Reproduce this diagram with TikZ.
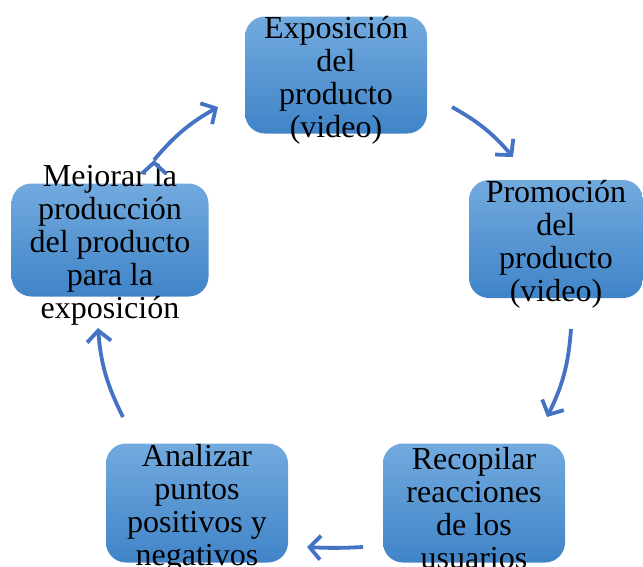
\documentclass[tikz,border=0pt]{standalone}
\usepackage{fontspec}
\setmainfont{Liberation Serif}
\usetikzlibrary{arrows.meta}
\definecolor{boxtop}{RGB}{114,170,222}
\definecolor{boxbot}{RGB}{64,132,200}
\definecolor{arrowblue}{RGB}{68,114,196}

\begin{document}
\begin{tikzpicture}[x=1pt, y=-1pt,
    box/.style={rectangle, rounded corners=20pt, top color=boxtop, bottom color=boxbot,
                minimum width=182pt, minimum height=117pt, inner sep=0pt},
    txt/.style={align=center, font=\fontsize{32}{33}\selectfont, inner sep=0pt, yshift=-5pt},
    flow/.style={draw=arrowblue, line width=3.8pt, -{Straight Barb[length=11pt,width=24pt]}}]
      \clip (0,0) rectangle (643,566);
      \node[box, label={[txt]center:{Exposición\\del\\producto\\(video)}}] (EXP) at (336,75) {};
      \node[box, minimum width=174pt, minimum height=118pt,
            label={[txt]center:{Promoción\\del\\producto\\(video)}}] (PRO) at (556,239) {};
      \node[box, minimum height=119pt,
            label={[txt]center:{Recopilar\\reacciones\\de los\\usuarios}}] (REC) at (474,503) {};
      \node[box, minimum height=119pt,
            label={[txt]center:{Analizar\\puntos\\positivos y\\negativos}}] (ANA) at (197,503) {};
      \node[box, minimum width=197pt, minimum height=113pt,
            label={[txt]center:{Mejorar la\\producción\\del producto\\para la\\exposición}}] (MEJ) at (110,240) {};

      % arrow ends
      \coordinate (EXPout) at (452,107);
      \coordinate (PROin) at (513,157);
      \coordinate (PROout) at (571,329);
      \coordinate (RECin) at (547,417);
      \coordinate (RECout) at (363,547);
      \coordinate (ANAin) at (307,547);
      \coordinate (ANAout) at (123,417);
      \coordinate (MEJin) at (98,328);
      \coordinate (MEJout) at (154,160);
      \coordinate (EXPin) at (218,107);

        \path[flow] (EXPout) edge[bend left=10] (PROin)
              (PROout) edge[bend left=11] (RECin)
              (RECout) edge[bend left=3] (ANAin)
              (ANAout) edge[bend left=11] (MEJin)
              (MEJout) edge[bend left=10] (EXPin)
              ;
\end{tikzpicture}
\end{document}
